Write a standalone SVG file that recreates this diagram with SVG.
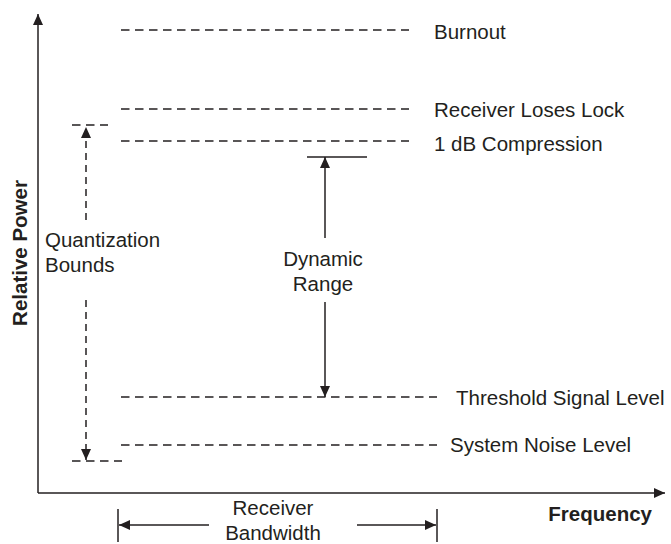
<svg xmlns="http://www.w3.org/2000/svg" width="671" height="544" viewBox="0 0 671 544">
<style>
text{font-family:"Liberation Sans",Arial,sans-serif;font-size:20.5px;fill:#231f20}
.b{font-weight:bold}
.d{stroke:#231f20;stroke-width:1.5;stroke-dasharray:8.5 5.5;fill:none}
.s{stroke:#231f20;stroke-width:1.5;fill:none}
</style>
<defs>
<marker id="ah" markerUnits="userSpaceOnUse" markerWidth="11" markerHeight="10" refX="11" refY="5" orient="auto">
<path d="M0,0 L11,5 L0,10 z" fill="#231f20"/>
</marker>
</defs>
<rect width="671" height="544" fill="#fff"/>
<g id="connectors">
<path class="s" d="M38,493 V14" marker-end="url(#ah)"/>
<path class="s" d="M38,493 H665" marker-end="url(#ah)"/>
<path class="d" d="M121,30 H409"/>
<path class="d" d="M121,109 H409"/>
<path class="d" d="M121,141 H409"/>
<path class="d" d="M121,397 H437"/>
<path class="d" d="M121,445 H437"/>
<path class="d" d="M72,125 H108"/>
<path class="d" d="M72,461 H122"/>
<path class="d" d="M86,220 V127" marker-end="url(#ah)" style="stroke-dasharray:7 5"/>
<path class="d" d="M86,300 V460" marker-end="url(#ah)" style="stroke-dasharray:7 5"/>
<path class="s" d="M307,157 H367"/>
<path class="s" d="M325,238 V157" marker-end="url(#ah)"/>
<path class="s" d="M325,302 V397" marker-end="url(#ah)"/>
<path class="s" d="M118,509 V542"/>
<path class="s" d="M437,509 V542"/>
<path class="s" d="M209,525 H119" marker-end="url(#ah)"/>
<path class="s" d="M357,525 H436" marker-end="url(#ah)"/>
</g>
<g id="labels">
<text x="434" y="39">Burnout</text>
<text x="434" y="117">Receiver Loses Lock</text>
<text x="434" y="151">1 dB Compression</text>
<text x="456" y="405">Threshold Signal Level</text>
<text x="450" y="452">System Noise Level</text>
<text x="45" y="247">Quantization</text>
<text x="45" y="272">Bounds</text>
<text x="323" y="266" text-anchor="middle">Dynamic</text>
<text x="323" y="291" text-anchor="middle">Range</text>
<text x="273" y="515" text-anchor="middle">Receiver</text>
<text x="273" y="540" text-anchor="middle">Bandwidth</text>
<text class="b" x="652" y="521" text-anchor="end">Frequency</text>
<text class="b" transform="translate(27,253) rotate(-90)" text-anchor="middle">Relative Power</text>
</g>
</svg>
